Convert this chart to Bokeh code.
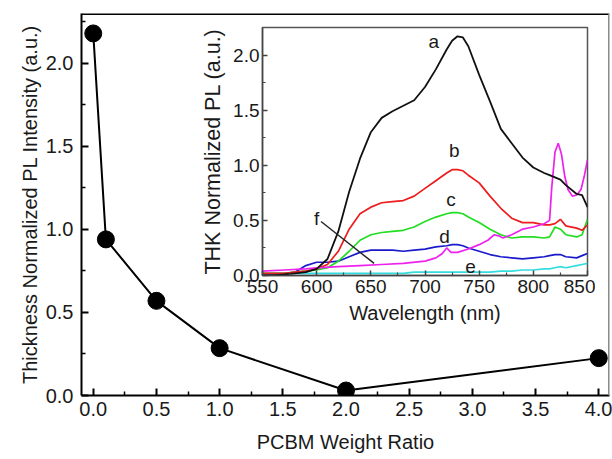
from bokeh.plotting import figure
from bokeh.models import Range1d, FixedTicker, PrintfTickFormatter, Span
from bokeh.embed import file_html
from bokeh.resources import INLINE
from bokeh.core.properties import value

# ---------------- main data ----------------
ratio = [0.0, 0.1, 0.5, 1.0, 2.0, 4.0]
intensity = [2.18, 0.94, 0.57, 0.285, 0.03, 0.225]
main_x_ticks = [0.0, 0.5, 1.0, 1.5, 2.0, 2.5, 3.0, 3.5, 4.0]
main_x_minor = [0.25, 0.75, 1.25, 1.75, 2.25, 2.75, 3.25, 3.75]
main_y_ticks = [0.0, 0.5, 1.0, 1.5, 2.0]
main_y_minor = [0.25, 0.75, 1.25, 1.75, 2.25]

# ---------------- inset data ----------------
wl = [550, 560, 570, 580, 590, 600, 610, 620, 630, 640, 650, 660, 670, 680, 690,
      700, 710, 720, 725, 730, 735, 740, 750, 760, 770, 780, 790, 800, 810, 815,
      820, 825, 830, 840, 845, 850]
pl_a = [0.00, 0.00, 0.01, 0.02, 0.03, 0.06, 0.15, 0.40, 0.76, 1.06, 1.30, 1.43, 1.49, 1.54, 1.59,
        1.71, 1.87, 2.05, 2.13, 2.17, 2.16, 2.08, 1.82, 1.58, 1.33, 1.20, 1.07, 0.98, 0.93, 0.91,
        0.89, 0.87, 0.82, 0.74, 0.73, 0.62]
pl_b = [0.02, 0.02, 0.02, 0.03, 0.04, 0.06, 0.10, 0.22, 0.42, 0.56, 0.62, 0.66, 0.67, 0.68, 0.72,
        0.79, 0.86, 0.93, 0.96, 0.96, 0.95, 0.91, 0.84, 0.72, 0.61, 0.52, 0.48, 0.48, 0.46, 0.46,
        0.47, 0.51, 0.45, 0.43, 0.41, 0.46]
pl_c = [0.02, 0.02, 0.02, 0.03, 0.04, 0.05, 0.07, 0.13, 0.22, 0.32, 0.37, 0.39, 0.40, 0.41, 0.44,
        0.49, 0.53, 0.56, 0.57, 0.57, 0.56, 0.53, 0.48, 0.42, 0.37, 0.34, 0.35, 0.35, 0.34, 0.35,
        0.44, 0.42, 0.37, 0.35, 0.37, 0.51]
pl_d = [0.01, 0.01, 0.01, 0.03, 0.09, 0.12, 0.12, 0.13, 0.17, 0.21, 0.23, 0.23, 0.23, 0.22, 0.23,
        0.24, 0.26, 0.27, 0.28, 0.28, 0.27, 0.25, 0.22, 0.19, 0.17, 0.16, 0.15, 0.16, 0.17, 0.18,
        0.19, 0.19, 0.17, 0.16, 0.18, 0.20]
pl_e = [0.02, 0.02, 0.02, 0.02, 0.02, 0.02, 0.02, 0.02, 0.02, 0.02, 0.02, 0.02, 0.02, 0.02, 0.03,
        0.03, 0.03, 0.03, 0.03, 0.03, 0.03, 0.03, 0.03, 0.03, 0.04, 0.04, 0.05, 0.05, 0.06, 0.06,
        0.07, 0.08, 0.07, 0.09, 0.10, 0.11]
wl_f = [550, 570, 590, 600, 620, 640, 660, 680, 700, 710, 716, 720, 724, 730, 740, 750, 758,
        764, 768, 772, 780, 790, 800, 810, 815, 817, 820, 823, 826, 829, 832, 836, 840, 844,
        847, 850]
pl_f = [0.04, 0.05, 0.06, 0.07, 0.08, 0.09, 0.10, 0.11, 0.13, 0.16, 0.20, 0.25, 0.21, 0.21,
        0.24, 0.28, 0.32, 0.37, 0.36, 0.34, 0.37, 0.42, 0.44, 0.47, 0.50, 0.80, 1.12, 1.20, 1.10,
        0.90, 0.78, 0.72, 0.73, 0.78, 0.90, 1.05]
curve_colors = ["#111111", "#ee1c1c", "#22dd22", "#1a1acc", "#33dddd", "#ee22ee"]

label_text = ["a", "b", "c", "d", "e", "f"]
label_x = [708, 727, 724, 718, 742, 600]
label_y = [2.12, 1.13, 0.69, 0.35, 0.08, 0.52]
f_line_x = [604, 653]
f_line_y = [0.49, 0.11]

in_x_ticks = [550, 600, 650, 700, 750, 800, 850]
in_x_minor = [575, 625, 675, 725, 775, 825]
in_y_ticks = [0.0, 0.5, 1.0, 1.5, 2.0]
in_y_minor = [0.25, 0.75, 1.25, 1.75]

FONT = "Liberation Sans"
TXT = "#1a1a1a"

# ---------------- main figure ----------------
p = figure(width=612, height=459, output_backend="svg", toolbar_location=None,
           x_range=Range1d(-0.093, 4.085), y_range=Range1d(0, 2.30),
           min_border_left=81, min_border_right=3, min_border_top=13, min_border_bottom=64,
           styles={"position": "absolute", "left": "0px", "top": "0px"})
p.outline_line_color = None
p.grid.visible = False
p.background_fill_color = "white"

p.xaxis.ticker = FixedTicker(ticks=main_x_ticks, minor_ticks=main_x_minor)
p.yaxis.ticker = FixedTicker(ticks=main_y_ticks, minor_ticks=main_y_minor)
for ax in (p.xaxis[0], p.yaxis[0]):
    ax.formatter = PrintfTickFormatter(format="%.1f")
    ax.axis_line_width = 2
    ax.axis_line_color = "black"
    ax.major_tick_in = 7
    ax.major_tick_out = 0
    ax.minor_tick_in = 4
    ax.minor_tick_out = 0
    ax.major_tick_line_width = 2
    ax.minor_tick_line_width = 1.5
    ax.major_label_text_font = FONT
    ax.major_label_text_font_size = "20px"
    ax.major_label_text_color = TXT
    ax.axis_label_text_font = FONT
    ax.axis_label_text_font_size = "20px"
    ax.axis_label_text_font_style = "normal"
    ax.axis_label_text_color = TXT
p.xaxis.axis_label = "PCBM Weight Ratio"
p.yaxis.axis_label = "Thickness Normalized PL Intensity (a.u.)"
p.xaxis.major_label_standoff = 6
p.xaxis.axis_label_standoff = 12
p.yaxis.major_label_standoff = 8
p.yaxis.axis_label_standoff = 2

p.add_layout(Span(location=2.30, dimension="width", line_color="black", line_width=3))
p.add_layout(Span(location=4.085, dimension="height", line_color="#8a8a8a", line_width=3))

p.line(ratio, intensity, line_color="black", line_width=2)
p.scatter(ratio, intensity, size=17, fill_color="black", line_color="black")

# ---------------- inset figure ----------------
q = figure(width=399, height=318, output_backend="svg", toolbar_location=None,
           x_range=Range1d(550, 850), y_range=Range1d(0, 2.25),
           min_border_left=66, min_border_right=8, min_border_top=10, min_border_bottom=60,
           styles={"position": "absolute", "left": "196px", "top": "17px"})
q.background_fill_color = None
q.border_fill_color = None
q.outline_line_color = "#555555"
q.outline_line_width = 1.5
q.grid.visible = False

q.xaxis.ticker = FixedTicker(ticks=in_x_ticks, minor_ticks=in_x_minor)
q.yaxis.ticker = FixedTicker(ticks=in_y_ticks, minor_ticks=in_y_minor)
q.yaxis.formatter = PrintfTickFormatter(format="%.1f")
for ax in (q.xaxis[0], q.yaxis[0]):
    ax.axis_line_width = 1.5
    ax.axis_line_color = "#444444"
    ax.major_tick_in = 5
    ax.major_tick_out = 0
    ax.minor_tick_in = 3
    ax.minor_tick_out = 0
    ax.major_tick_line_color = "#444444"
    ax.minor_tick_line_color = "#444444"
    ax.major_tick_line_width = 1.5
    ax.minor_tick_line_width = 1.2
    ax.major_label_text_font = FONT
    ax.major_label_text_font_size = "19px"
    ax.major_label_text_color = TXT
    ax.axis_label_text_font = FONT
    ax.axis_label_text_font_style = "normal"
    ax.axis_label_text_color = TXT
q.xaxis.axis_label_text_font_size = "20px"
q.yaxis.axis_label_text_font_size = "21.5px"
q.xaxis.axis_label = "Wavelength (nm)"
q.yaxis.axis_label = "THK Normalized PL (a.u.)"
q.xaxis.major_label_standoff = 4
q.xaxis.axis_label_standoff = 6
q.yaxis.major_label_standoff = 3
q.yaxis.axis_label_standoff = 5

for ys, col in zip([pl_e, pl_d, pl_c, pl_b], [curve_colors[4], curve_colors[3], curve_colors[2], curve_colors[1]]):
    q.line(wl, ys, line_color=col, line_width=1.7)
q.line(wl_f, pl_f, line_color=curve_colors[5], line_width=1.7)
q.line(wl, pl_a, line_color=curve_colors[0], line_width=1.8)

q.text(x=label_x, y=label_y, text=label_text, text_font=value(FONT), text_font_size="19px",
       text_color=TXT, text_align="center", text_baseline="middle")
q.line(f_line_x, f_line_y, line_color="#222222", line_width=1.4)

open("out.html", "w").write(file_html([p, q], INLINE))
